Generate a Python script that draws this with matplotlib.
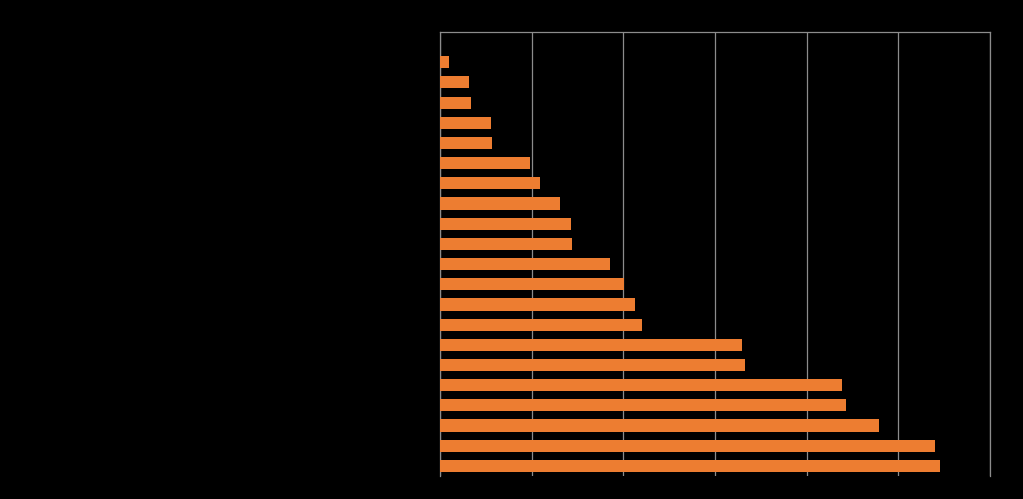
import numpy as np
import matplotlib.pyplot as plt

# values (axis 0-60, gridline every 10)
categories = ["c%d" % i for i in range(1, 22)]
values = [0.98, 3.2, 3.4, 5.6, 5.7, 9.8, 10.9, 13.1, 14.3, 14.4,
          18.5, 20.1, 21.3, 22.0, 33.0, 33.3, 43.9, 44.3, 47.9, 54.0, 54.5]

fig = plt.figure(figsize=(10.23, 4.99), dpi=100, facecolor='black')
ax = fig.add_axes([0.4301, 0.0461, 0.5376, 0.8898], facecolor='black')

pos = np.arange(len(values))
ax.barh(pos, values, height=0.6, color='#ED7D31', zorder=3)

ax.set_xlim(0, 60)
ax.set_ylim(len(values) - 0.5, -1.5)
ax.set_xticks(np.arange(0, 61, 10))
ax.set_yticks([])
ax.tick_params(axis='x', length=0, labelbottom=False)
ax.grid(axis='x', color='#8c8c8c', linewidth=0.9, zorder=0)

ax.spines['bottom'].set_visible(False)
for side in ('left', 'top', 'right'):
    ax.spines[side].set_color('#8c8c8c')
    ax.spines[side].set_linewidth(0.9)

fig.savefig('out.png', dpi=100, facecolor='black')
